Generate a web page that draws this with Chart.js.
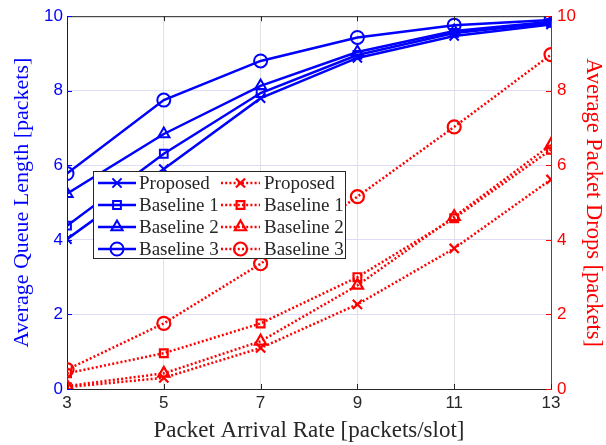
<!DOCTYPE html>
<html><head><meta charset="utf-8">
<script src="https://cdn.jsdelivr.net/npm/chart.js@4/dist/chart.umd.min.js"></script>
<style>html,body{margin:0;padding:0;background:#fff}#wrap{width:606px;height:445px;position:relative}</style>
</head><body><div id="wrap"><canvas id="c" width="606" height="445"></canvas></div>
<script>
// Arrival rates (packets/slot) on the x axis
const arrivalRates = [3, 5, 7, 9, 11, 13];
const seriesNames = ['Proposed', 'Baseline 1', 'Baseline 2', 'Baseline 3'];
// Average queue length [packets] (left axis)
const queueProposed  = [4.02, 5.90, 7.80, 8.88, 9.47, 9.78];
const queueBaseline1 = [4.38, 6.31, 7.94, 8.96, 9.55, 9.82];
const queueBaseline2 = [5.24, 6.84, 8.13, 9.04, 9.60, 9.85];
const queueBaseline3 = [5.78, 7.75, 8.80, 9.43, 9.76, 9.90];
// Average packet drops [packets] (right axis)
const dropsProposed  = [0.05, 0.30, 1.10, 2.27, 3.77, 5.62];
const dropsBaseline1 = [0.42, 0.96, 1.76, 3.00, 4.58, 6.42];
const dropsBaseline2 = [0.08, 0.42, 1.28, 2.78, 4.62, 6.55];
const dropsBaseline3 = [0.52, 1.76, 3.36, 5.16, 7.03, 8.97];
const xTicks = [3, 5, 7, 9, 11, 13];
const yTicks = [0, 2, 4, 6, 8, 10];

const BLUE = '#0000ff', RED = '#ff0000', DARK = '#262626';
const markers = ['crossRot', 'rect', 'triangle', 'circle'];
const queueSeries = [queueProposed, queueBaseline1, queueBaseline2, queueBaseline3];
const dropSeries = [dropsProposed, dropsBaseline1, dropsBaseline2, dropsBaseline3];

const pts = arr => arr.map((v, i) => ({x: arrivalRates[i], y: v}));

const datasets = [];
queueSeries.forEach((arr, i) => datasets.push({
  label: seriesNames[i], data: pts(arr), yAxisID: 'y',
  borderColor: BLUE, backgroundColor: 'rgba(0,0,0,0)', borderWidth: 2.5,
  pointStyle: markers[i], pointRadius: i === 1 ? 5.5 : 6.5, pointBorderWidth: 2,
  pointBorderColor: BLUE, pointBackgroundColor: 'rgba(0,0,0,0)', tension: 0
}));
dropSeries.forEach((arr, i) => datasets.push({
  label: seriesNames[i], data: pts(arr), yAxisID: 'y2',
  borderColor: RED, backgroundColor: 'rgba(0,0,0,0)', borderWidth: 2.5, borderDash: [2, 2.2],
  pointStyle: markers[i], pointRadius: i === 1 ? 5.5 : 6.5, pointBorderWidth: 2.2,
  pointBorderColor: RED, pointBackgroundColor: 'rgba(0,0,0,0)', tension: 0
}));

const TICK_FONT = {family: 'Liberation Sans', size: 17};
const fixTicks = list => scale => { scale.ticks = list.map(v => ({value: v})); };

// Inward tick marks, top frame line and the boxed two-column legend
const framePlugin = {
  id: 'frame',
  afterDatasetsDraw(chart) {
    const {ctx, chartArea: a, scales} = chart;
    ctx.save();
    ctx.lineWidth = 1;
    ctx.strokeStyle = DARK;
    ctx.beginPath();
    ctx.moveTo(a.left, a.top + 0.5); ctx.lineTo(a.right, a.top + 0.5);
    xTicks.forEach(v => {
      const px = Math.round(scales.x.getPixelForValue(v)) + 0.5;
      ctx.moveTo(px, a.bottom); ctx.lineTo(px, a.bottom - 5);
      ctx.moveTo(px, a.top); ctx.lineTo(px, a.top + 5);
    });
    ctx.stroke();
    ctx.strokeStyle = BLUE;
    ctx.beginPath();
    yTicks.forEach(v => {
      const py = Math.round(scales.y.getPixelForValue(v)) + 0.5;
      ctx.moveTo(a.left, py); ctx.lineTo(a.left + 5, py);
    });
    ctx.stroke();
    ctx.strokeStyle = RED;
    ctx.beginPath();
    yTicks.forEach(v => {
      const py = Math.round(scales.y2.getPixelForValue(v)) + 0.5;
      ctx.moveTo(a.right, py); ctx.lineTo(a.right - 5, py);
    });
    ctx.stroke();

    // legend
    const bx = 93.5, by = 171.5, bw = 252, bh = 87, rowH = 22;
    ctx.fillStyle = '#ffffff';
    ctx.fillRect(bx, by, bw, bh);
    ctx.strokeStyle = DARK; ctx.lineWidth = 1;
    ctx.strokeRect(bx, by, bw, bh);
    ctx.font = '19px "Liberation Serif"';
    ctx.textBaseline = 'middle';
    ctx.textAlign = 'left';
    const cols = [
      {x0: 98, x1: 136, tx: 139, ds: datasets.slice(0, 4)},
      {x0: 221, x1: 260, tx: 264, ds: datasets.slice(4, 8)}
    ];
    cols.forEach(col => {
      col.ds.forEach((d, i) => {
        const y = by + 11.5 + i * rowH;
        ctx.save();
        ctx.strokeStyle = d.borderColor; ctx.lineWidth = d.borderWidth;
        ctx.setLineDash(d.borderDash || []);
        ctx.beginPath(); ctx.moveTo(col.x0, y); ctx.lineTo(col.x1, y); ctx.stroke();
        ctx.setLineDash([]);
        ctx.lineWidth = d.pointBorderWidth;
        ctx.fillStyle = 'rgba(0,0,0,0)';
        Chart.helpers.drawPoint(ctx, {pointStyle: d.pointStyle, radius: d.pointRadius, borderWidth: d.pointBorderWidth, rotation: 0},
          (col.x0 + col.x1) / 2, y);
        ctx.restore();
        ctx.fillStyle = DARK;
        ctx.fillText(d.label, col.tx, y + 1);
      });
    });
    ctx.restore();
  }
};

new Chart(document.getElementById('c'), {
  type: 'line',
  data: {datasets},
  plugins: [framePlugin],
  options: {
    responsive: false, animation: false, devicePixelRatio: 1,
    layout: {padding: {top: 13, left: 0, right: 0, bottom: 0}},
    plugins: {legend: {display: false}, tooltip: {enabled: false}},
    scales: {
      x: {
        type: 'linear', min: 3, max: 13,
        afterBuildTicks: fixTicks(xTicks),
        afterFit: s => { s.height = 56; },
        grid: {color: '#e2e2e2', lineWidth: 1, drawTicks: false},
        border: {color: DARK, width: 1},
        ticks: {color: DARK, font: TICK_FONT, padding: 4},
        title: {display: true, text: 'Packet Arrival Rate [packets/slot]', color: DARK,
          font: {family: 'Liberation Serif', size: 23}, padding: {top: 0, bottom: 0}}
      },
      y: {
        position: 'left', min: 0, max: 10,
        afterBuildTicks: fixTicks(yTicks),
        afterFit: s => { s.width = 67; },
        grid: {color: '#dcdcf6', lineWidth: 1, drawTicks: false},
        border: {color: BLUE, width: 1},
        ticks: {color: BLUE, font: TICK_FONT, padding: 4},
        title: {display: true, text: 'Average Queue Length [packets]', color: BLUE,
          font: {family: 'Liberation Serif', size: 22}, padding: {top: 9, bottom: 0}}
      },
      y2: {
        position: 'right', min: 0, max: 10,
        afterBuildTicks: fixTicks(yTicks),
        afterFit: s => { s.width = 55; },
        grid: {drawOnChartArea: false, drawTicks: false},
        border: {color: RED, width: 1},
        ticks: {color: RED, font: TICK_FONT, padding: 6},
        title: {display: true, text: 'Average Packet Drops [packets]', color: RED,
          font: {family: 'Liberation Serif', size: 22.5}, padding: {top: 0, bottom: 0}}
      }
    }
  }
});
</script>
</body></html>
